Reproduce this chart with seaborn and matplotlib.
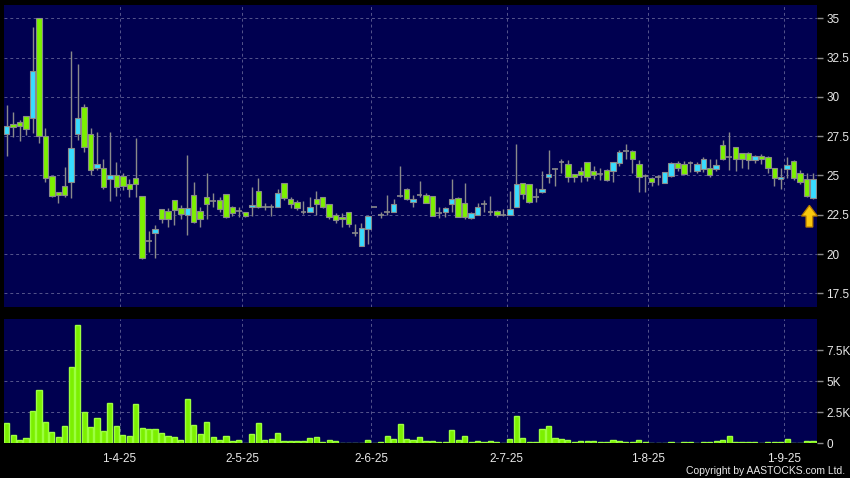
import matplotlib.pyplot as plt
import matplotlib.patches as mpatches
import numpy as np
import pandas as pd
import seaborn as sns

# trading days (HK calendar), Mar 6 - Sep 5 2025
holidays = ["2025-04-04", "2025-04-18", "2025-04-21", "2025-05-01", "2025-05-05", "2025-07-01"]
dates = pd.bdate_range("2025-03-06", "2025-09-05")
dates = dates[~dates.isin(pd.to_datetime(holidays))]

open_ = [27.67, 28.27, 28.40, 28.76, 28.63, 35.00, 27.53, 24.98, 23.98, 24.30,
         24.60, 27.67, 29.39, 27.61, 25.45, 25.45, 24.75, 25.06, 24.98, 24.49,
         24.85, 23.70, 20.82, 21.31, 22.86, 22.71, 23.45, 22.96, 22.47, 23.79,
         22.71, 23.64, 23.40, 23.44, 23.80, 22.98, 22.76, 22.70, 22.98, 23.99,
         22.98, 23.02, 22.98, 24.50, 23.53, 23.34, 22.70, 22.70, 23.48, 23.65,
         23.17, 22.47, 22.38, 22.70, 21.37, 20.52, 21.58, 22.98, 22.49, 22.70,
         22.70, 23.72, 24.12, 23.29, 23.76, 23.76, 23.67, 22.64, 22.70, 23.17,
         23.55, 23.23, 22.28, 22.49, 23.17, 22.70, 22.76, 22.49, 22.49, 22.98,
         24.50, 24.43, 23.65, 23.93, 24.88, 25.39, 25.87, 25.70, 25.07, 25.30,
         25.83, 25.30, 25.07, 25.34, 25.30, 25.77, 26.57, 26.55, 25.70, 24.98,
         24.81, 24.88, 24.50, 24.96, 25.81, 25.72, 25.81, 25.30, 25.39, 25.45,
         25.39, 26.97, 26.15, 26.82, 26.44, 26.44, 25.98, 26.23, 26.15, 25.45,
         24.75, 25.39, 25.94, 25.17, 24.75, 23.55]
high = [29.48, 29.06, 28.52, 28.76, 34.47, 35.00, 28.00, 24.98, 23.98, 25.55,
        32.92, 32.09, 29.52, 28.00, 27.74, 26.02, 27.74, 25.83, 25.19, 24.75,
        27.36, 23.70, 21.45, 21.84, 22.86, 22.90, 23.45, 23.11, 26.30, 24.60,
        23.00, 25.13, 23.86, 23.65, 23.80, 23.06, 23.02, 22.70, 24.24, 24.81,
        23.23, 23.19, 24.12, 24.50, 23.61, 23.44, 23.40, 23.65, 24.03, 23.65,
        23.17, 22.60, 22.60, 22.70, 21.92, 21.96, 22.45, 22.98, 22.70, 23.76,
        23.50, 25.60, 24.18, 23.76, 24.67, 23.91, 23.67, 22.98, 23.02, 24.77,
        23.65, 24.54, 22.70, 23.23, 23.44, 23.69, 22.81, 22.85, 24.03, 26.99,
        24.50, 24.43, 24.18, 25.30, 26.65, 25.45, 26.02, 25.98, 25.09, 25.56,
        25.83, 25.60, 25.45, 25.39, 25.83, 26.61, 27.03, 26.61, 25.98, 25.09,
        24.92, 25.03, 25.24, 25.87, 25.94, 25.94, 25.91, 25.87, 26.15, 26.08,
        26.08, 27.29, 27.77, 26.82, 26.44, 26.50, 26.30, 26.36, 26.23, 25.45,
        25.45, 26.19, 25.98, 25.32, 25.17, 25.17]
low = [26.23, 27.46, 27.21, 27.57, 27.72, 27.08, 24.60, 23.60, 23.26, 23.64,
       23.58, 27.25, 26.51, 25.02, 25.34, 24.11, 23.39, 23.68, 24.07, 23.64,
       23.64, 19.71, 20.14, 19.76, 21.98, 21.73, 21.84, 22.26, 21.20, 21.98,
       21.73, 22.26, 23.02, 22.70, 22.28, 22.43, 22.38, 22.38, 22.43, 22.91,
       22.81, 22.43, 22.98, 23.44, 22.91, 22.81, 22.55, 22.70, 22.49, 22.91,
       22.21, 22.00, 21.71, 21.75, 21.12, 20.52, 20.65, 22.98, 22.28, 22.49,
       22.70, 23.61, 23.44, 23.02, 23.65, 23.23, 22.45, 22.28, 22.38, 22.70,
       22.38, 22.21, 22.21, 22.49, 22.70, 22.49, 22.38, 22.43, 22.49, 22.98,
       23.48, 23.23, 23.33, 23.86, 24.50, 24.33, 25.17, 24.60, 24.60, 24.60,
       24.67, 24.75, 24.71, 24.67, 24.60, 25.60, 26.02, 25.13, 23.97, 23.97,
       24.33, 24.39, 24.50, 24.88, 25.30, 25.03, 25.24, 25.17, 25.24, 24.88,
       25.30, 25.98, 25.34, 25.30, 25.45, 25.39, 25.81, 25.72, 25.17, 24.33,
       24.11, 24.81, 24.71, 24.46, 23.65, 23.52]
close = [28.14, 28.10, 28.18, 27.93, 31.65, 27.53, 24.81, 23.68, 23.73, 23.79,
         26.78, 28.69, 26.83, 25.34, 25.76, 24.24, 25.06, 24.24, 24.36, 24.11,
         24.45, 19.76, 20.82, 21.62, 22.20, 22.26, 22.79, 22.52, 22.96, 22.05,
         22.26, 23.17, 23.40, 22.85, 22.34, 22.60, 22.76, 22.43, 23.10, 22.98,
         22.98, 23.02, 23.86, 23.55, 23.19, 22.91, 22.70, 22.98, 23.19, 22.98,
         22.34, 22.17, 22.24, 21.92, 21.37, 21.64, 22.45, 22.98, 22.49, 22.70,
         23.17, 23.72, 23.48, 23.50, 23.76, 23.27, 22.45, 22.64, 22.91, 23.48,
         22.38, 22.34, 22.60, 22.98, 23.17, 22.70, 22.49, 22.49, 22.85, 24.43,
         23.82, 23.33, 23.65, 24.12, 25.07, 25.39, 25.87, 24.88, 24.88, 25.03,
         24.88, 25.03, 25.07, 24.71, 25.83, 26.50, 26.57, 26.02, 24.88, 24.98,
         24.60, 24.88, 25.24, 25.81, 25.45, 25.09, 25.81, 25.70, 26.08, 25.03,
         25.66, 26.08, 26.15, 26.08, 26.08, 25.98, 26.23, 26.02, 25.45, 24.81,
         24.92, 25.66, 24.81, 24.58, 23.69, 24.77]
volume = [1610, 670, 270, 400, 2610, 4300, 1750, 910, 480, 1400,
          6180, 9520, 2550, 1340, 2020, 1020, 3280, 1400, 700, 560,
          3150, 1240, 1160, 1160, 810, 620, 510, 270, 3580, 1480,
          730, 1720, 510, 300, 560, 220, 270, 0, 750, 1610,
          300, 320, 830, 190, 150, 220, 190, 400, 540, 80,
          270, 160, 50, 30, 50, 50, 270, 0, 110, 590,
          320, 1530, 320, 240, 480, 160, 190, 80, 80, 1080,
          270, 560, 80, 190, 110, 160, 80, 50, 350, 2200,
          430, 80, 110, 1160, 1420, 400, 320, 300, 110, 220,
          220, 190, 110, 130, 240, 190, 110, 110, 270, 130,
          30, 30, 50, 80, 30, 110, 130, 30, 110, 110,
          160, 240, 560, 110, 80, 80, 110, 50, 130, 110,
          80, 350, 50, 30, 190, 190]

price_ticks = [17.5, 20, 22.5, 25, 27.5, 30, 32.5, 35]
price_labels = ["17.5", "20", "22.5", "25", "27.5", "30", "32.5", "35"]
vol_ticks = [0, 2500, 5000, 7500]
vol_labels = ["0", "2.5K", "5K", "7.5K"]

BG = "#000050"
GRID = "#55558c"
UP = "#38dcff"
DOWN = "#7cf000"
EDGE = "#8a8a8a"
TXT = "#e8e8e8"

sns.set_style("dark", {"axes.facecolor": BG, "figure.facecolor": "black"})
plt.rcParams["font.family"] = ["Liberation Sans", "DejaVu Sans"]

df = pd.DataFrame({"date": dates, "open": open_, "high": high, "low": low,
                   "close": close, "volume": volume})
df["idx"] = np.arange(len(df))

# first trading day of each month -> gridline just before it
first = df.groupby(df["date"].dt.to_period("M"))["idx"].min().iloc[1:]
month_pos = first.values - 0.5
month_lab = [f"{d.day}-{d.month}-{d:%y}" for d in df.loc[first.values, "date"]]

fig = plt.figure(figsize=(8.5, 4.78), dpi=100, facecolor="black")
ax1 = fig.add_axes([4 / 850, 1 - 306.7 / 478, 812.5 / 850, 301.7 / 478])
ax2 = fig.add_axes([4 / 850, 1 - 443.3 / 478, 812.5 / 850, 124 / 478])

xlim = (-0.42, len(df) - 0.45)

# candles
ax1.vlines(df["idx"], df["low"], df["high"], color=EDGE, lw=1, zorder=2)
doji = df["open"] == df["close"]
body = df[~doji]
up = body["close"] > body["open"]
ax1.bar(body["idx"], (body["close"] - body["open"]).abs(),
        bottom=body[["open", "close"]].min(axis=1), width=0.85,
        color=np.where(up, UP, DOWN), edgecolor=EDGE, lw=0.8, zorder=3)
ax1.hlines(df.loc[doji, "close"], df.loc[doji, "idx"] - 0.45,
           df.loc[doji, "idx"] + 0.45, color=EDGE, lw=1.2, zorder=3)

# marker arrow under last candle
last = df.iloc[-1]
ax1.add_patch(mpatches.FancyArrow(last["idx"] - 0.55, 21.72, 0, 1.38, width=1.05,
                                  head_width=2.45, head_length=0.68,
                                  length_includes_head=True, color="#f9c80e",
                                  ec="#b87c00", lw=0.9, zorder=5, clip_on=False))

ax1.set_xlim(*xlim)
ax1.set_ylim(16.65, 35.85)
ax1.set_yticks(price_ticks, price_labels)

# volume
sns.barplot(x=df["idx"], y=df["volume"], native_scale=True, width=0.8,
            color=DOWN, edgecolor="#9cff40", linewidth=1.0, saturation=1,
            errorbar=None, ax=ax2, zorder=3)
ax2.set_xlim(*xlim)
ax2.set_ylim(0, 10000)
ax2.set_yticks(vol_ticks, vol_labels)
ax2.set_xlabel("")
ax2.set_ylabel("")

for ax in (ax1, ax2):
    ax.set_facecolor(BG)
    ax.yaxis.tick_right()
    ax.tick_params(axis="y", colors=EDGE, labelcolor=TXT, length=4, width=1,
                   pad=3, labelsize=8.5)
    ax.grid(False)
    for y in ax.get_yticks():
        ax.axhline(y, color=GRID, lw=0.7, ls=(0, (3, 3)), zorder=1)
    for x in month_pos:
        ax.axvline(x, color=GRID, lw=0.7, ls=(0, (3, 3)), zorder=1)
    for s in ax.spines.values():
        s.set_visible(False)

ax1.set_xticks([])
ax2.set_xticks(month_pos, month_lab)
ax2.tick_params(axis="x", colors=EDGE, labelcolor=TXT, length=3, width=1,
                pad=4, labelsize=8.5)

fig.text(845 / 850, 1 - 471 / 478, "Copyright by AASTOCKS.com Ltd.",
         color=TXT, fontsize=7.5, ha="right", va="center")

fig.savefig("out.png", dpi=100, facecolor="black")
